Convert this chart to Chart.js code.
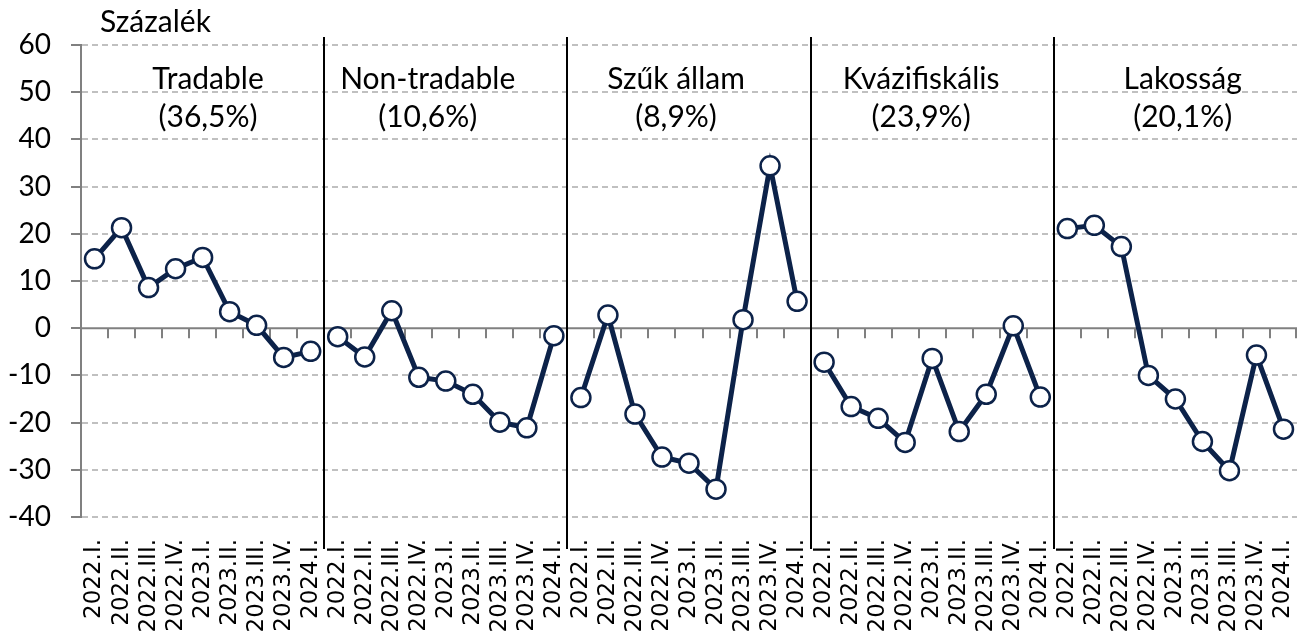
<!DOCTYPE html>
<html><head><meta charset="utf-8">
<script src="https://cdn.jsdelivr.net/npm/chart.js@4.4.1/dist/chart.umd.min.js"></script>
<style>html,body{margin:0;padding:0;background:#fff}#wrap{width:1297px;height:642px;position:relative;overflow:hidden}</style>
</head><body><div id="wrap"><canvas id="c" width="1297" height="642"></canvas></div>
<script>
// ---- data ----
const quarters = ['2022.I.','2022.II.','2022.III.','2022.IV.','2023.I.','2023.II.','2023.III.','2023.IV.','2024.I.'];
const groupNames = ['Tradable','Non-tradable','Szűk állam','Kvázifiskális','Lakosság'];
const groupShares = ['(36,5%)','(10,6%)','(8,9%)','(23,9%)','(20,1%)'];
const tradable      = [14.7, 21.3, 8.6, 12.6, 15.0, 3.5, 0.6, -6.2, -4.9];
const nonTradable   = [-1.8, -6.1, 3.7, -10.4, -11.2, -14.0, -19.9, -21.1, -1.6];
const szukAllam     = [-14.7, 2.8, -18.2, -27.3, -28.6, -34.1, 1.8, 34.4, 5.7];
const kvazifiskalis = [-7.2, -16.6, -19.1, -24.2, -6.4, -21.9, -14.0, 0.5, -14.6];
const lakossag      = [21.1, 21.8, 17.3, -10.0, -15.0, -24.0, -30.2, -5.7, -21.4];
const yMin = -40, yMax = 60, yStep = 10;
const yUnit = 'Százalék';

// ---- layout / style ----
const FONT = 'Lato';
const XFONT = 'DejaVu Sans';
const LINE = '#0C2249';
const titleCenters = [4.2, 12.33, 21.52, 30.59, 40.27]; // in category units
const groups = [tradable, nonTradable, szukAllam, kvazifiskalis, lakossag];
const n = quarters.length;
const labels = [];
groups.forEach(() => quarters.forEach(q => labels.push(q)));

const datasets = groups.map((vals, g) => {
  const data = new Array(labels.length).fill(null);
  vals.forEach((v, i) => { data[g * n + i] = v; });
  return {
    label: groupNames[g], data,
    borderColor: LINE, borderWidth: 5,
    pointRadius: 9.5, pointBorderWidth: 2.5,
    pointBackgroundColor: '#fff', pointBorderColor: LINE,
    spanGaps: false, tension: 0, clip: false
  };
});

const decor = {
  id: 'decor',
  beforeDatasetsDraw(chart) {
    const {ctx, chartArea: a, scales: {x, y}} = chart;
    ctx.save();
    const y0 = y.getPixelForValue(0);
    ctx.strokeStyle = '#808080'; ctx.lineWidth = 2;
    ctx.beginPath(); ctx.moveTo(a.left, y0); ctx.lineTo(a.right, y0); ctx.stroke();
    ctx.beginPath();
    for (let i = 1; i <= labels.length; i++) {
      const px = Math.min(Math.round(x.getPixelForValue(i - 0.5)), a.right - 1);
      ctx.moveTo(px, y0); ctx.lineTo(px, y0 + 10);
    }
    ctx.stroke();
    ctx.strokeStyle = '#000'; ctx.lineWidth = 2;
    ctx.beginPath();
    for (let g = 1; g < groups.length; g++) {
      const px = Math.round(x.getPixelForValue(g * n - 0.5));
      ctx.moveTo(px, a.top - 8); ctx.lineTo(px, a.bottom + 32);
    }
    ctx.stroke();
    ctx.restore();
  },
  afterDraw(chart) {
    const {ctx, chartArea: a, scales: {x}} = chart;
    ctx.save();
    ctx.fillStyle = '#000';
    ctx.font = '30px ' + FONT;
    ctx.textAlign = 'center'; ctx.textBaseline = 'alphabetic';
    groupNames.forEach((name, g) => {
      const cx = x.getPixelForValue(titleCenters[g]);
      ctx.fillText(name, cx, a.top + 44);
      ctx.fillText(groupShares[g], cx, a.top + 82);
    });
    ctx.textAlign = 'left';
    ctx.fillText(yUnit, a.left + 19, a.top - 13);
    ctx.restore();
  }
};

new Chart(document.getElementById('c'), {
  type: 'line',
  data: { labels, datasets },
  plugins: [decor],
  options: {
    responsive: false, animation: false, devicePixelRatio: 1,
    layout: { autoPadding: false, padding: { top: 45, left: 0, right: 0, bottom: 0 } },
    plugins: { legend: { display: false }, tooltip: { enabled: false } },
    scales: {
      x: {
        offset: true,
        grid: { display: false, drawTicks: false },
        border: { display: false },
        ticks: { autoSkip: false, maxRotation: 90, minRotation: 90, padding: 22, color: '#000',
                 font: { family: XFONT, size: 23 } },
        afterFit: s => { s.height = 125; s.paddingLeft = 0; s.paddingRight = 0; }
      },
      y: {
        min: yMin, max: yMax,
        ticks: { stepSize: yStep, color: '#000', padding: 20, font: { family: FONT, size: 28 } },
        grid: { color: c => (c.tick && c.tick.value === 0) ? 'rgba(0,0,0,0)' : '#C0C0C0',
                lineWidth: 2, tickColor: '#808080', tickLength: 10, tickWidth: 2 },
        border: { display: true, color: '#808080', width: 2, dash: [6, 4] },
        afterFit: s => { s.width = 81; s.paddingTop = 0; s.paddingBottom = 0; }
      }
    }
  }
});
</script></body></html>
